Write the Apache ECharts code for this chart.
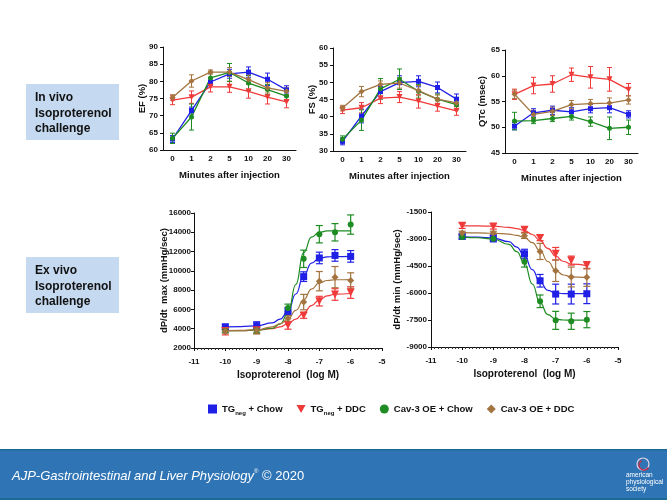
<!DOCTYPE html>
<html><head><meta charset="utf-8">
<script src="https://cdn.jsdelivr.net/npm/echarts@6/dist/echarts.min.js"></script>
<style>html,body{margin:0;padding:0;background:#fff}#c{width:667px;height:500px}</style>
</head><body><div id="c"></div>
<script>
// ---------- DATA ----------
const GROUPS = ['TGneg + Chow', 'TGneg + DDC', 'Cav-3 OE + Chow', 'Cav-3 OE + DDC'];
const MINUTES = ['0', '1', '2', '5', '10', '20', '30'];

// EF (%)
const EF_TG_CHOW = [63.2, 71.5, 79.8, 82.2, 82.7, 80.6, 77.5];
const EF_TG_DDC  = [74.5, 75.4, 78.4, 78.4, 77.1, 75.4, 74.0];
const EF_CAV_CHOW = [63.4, 69.6, 81.0, 82.6, 79.5, 77.6, 75.7];
const EF_CAV_DDC  = [75.3, 80.1, 82.7, 82.7, 80.5, 78.1, 77.1];
const EF_TG_CHOW_ERR = [1.0, 1.0, 1.0, 1.3, 1.5, 1.8, 1.2];
const EF_TG_DDC_ERR  = [1.3, 1.8, 1.5, 1.6, 2.0, 2.0, 1.7];
const EF_CAV_CHOW_ERR = [1.5, 3.8, 1.4, 2.6, 2.2, 1.5, 1.3];
const EF_CAV_DDC_ERR  = [0.8, 1.8, 0.6, 1.3, 1.4, 1.5, 1.0];

// FS (%)
const FS_TG_CHOW = [32.8, 40.2, 47.3, 49.9, 50.3, 48.5, 45.1];
const FS_TG_DDC  = [41.9, 42.6, 45.4, 45.7, 44.5, 43.1, 41.7];
const FS_CAV_CHOW = [33.4, 39.0, 48.1, 50.9, 47.4, 45.1, 43.5];
const FS_CAV_DDC  = [42.5, 47.3, 49.4, 49.8, 47.6, 45.1, 44.0];
const FS_TG_CHOW_ERR = [1.0, 2.0, 1.5, 2.0, 1.6, 1.6, 1.5];
const FS_TG_DDC_ERR  = [1.0, 1.5, 1.6, 1.6, 2.0, 1.5, 1.3];
const FS_CAV_CHOW_ERR = [1.0, 3.0, 3.0, 3.0, 2.0, 1.5, 1.5];
const FS_CAV_DDC_ERR  = [0.8, 1.5, 1.0, 1.5, 1.5, 1.2, 1.0];

// QTc (msec)
const QT_TG_CHOW = [50.2, 52.8, 53.3, 53.0, 53.6, 53.8, 52.5];
const QT_TG_DDC  = [56.4, 58.1, 58.4, 60.2, 59.7, 59.3, 57.3];
const QT_CAV_CHOW = [51.2, 51.3, 51.7, 52.1, 51.1, 49.8, 50.0];
const QT_CAV_DDC  = [56.4, 52.5, 53.1, 54.4, 54.6, 54.7, 55.3];
const QT_TG_CHOW_ERR = [0.7, 0.8, 0.8, 0.8, 0.8, 1.0, 0.7];
const QT_TG_DDC_ERR  = [1.0, 1.6, 1.6, 1.3, 2.1, 2.3, 1.2];
const QT_CAV_CHOW_ERR = [1.7, 0.6, 0.6, 0.7, 0.9, 2.2, 1.4];
const QT_CAV_DDC_ERR  = [0.8, 0.8, 0.8, 0.8, 0.8, 1.0, 0.8];

// Ex vivo: isoproterenol (log M)
const LOG_CONC = [-10, -9, -8, -7.5, -7, -6.5, -6];
const FIT_X = [-10, -9.5, -9, -8.5, -8.25, -8, -7.75, -7.5, -7.25, -7, -6.75, -6.5, -6];

// dP/dt max (mmHg/sec)
const MAX_TG_CHOW = [4180, 4320, 5800, 9400, 11340, 11600, 11500];
const MAX_TG_DDC  = [3760, 3850, 4350, 5380, 6860, 7550, 7750];
const MAX_CAV_CHOW = [3780, 3850, 6150, 11250, 13800, 14000, 14800];
const MAX_CAV_DDC  = [3760, 3850, 5050, 6760, 8930, 9350, 9000];
const MAX_TG_CHOW_ERR = [300, 400, 400, 500, 600, 600, 600];
const MAX_TG_DDC_ERR  = [400, 300, 400, 300, 500, 600, 600];
const MAX_CAV_CHOW_ERR = [200, 300, 400, 900, 900, 900, 1000];
const MAX_CAV_DDC_ERR  = [200, 400, 300, 800, 1000, 1100, 800];
// fitted curves at FIT_X
const MAX_TG_CHOW_FIT = [4200, 4220, 4300, 4600, 5000, 5800, 7600, 9500, 10800, 11300, 11450, 11480, 11500];
const MAX_TG_DDC_FIT  = [3800, 3810, 3850, 4000, 4200, 4500, 5000, 5650, 6400, 7000, 7400, 7580, 7650];
const MAX_CAV_CHOW_FIT = [3800, 3810, 3850, 4050, 4500, 5600, 8600, 11900, 13500, 14000, 14150, 14150, 14150];
const MAX_CAV_DDC_FIT  = [3800, 3820, 3880, 4200, 4500, 5000, 5900, 7000, 8100, 8750, 9000, 9080, 9100];

// dP/dt min (mmHg/sec)
const MIN_TG_CHOW = [-2850, -2960, -3820, -5320, -6060, -6060, -6040];
const MIN_TG_DDC  = [-2260, -2300, -2480, -2940, -3820, -4200, -4460];
const MIN_CAV_CHOW = [-2890, -2980, -4260, -6460, -7520, -7570, -7480];
const MIN_CAV_DDC  = [-2670, -2670, -2820, -3690, -4760, -5110, -5130];
const MIN_TG_CHOW_ERR = [150, 200, 250, 350, 550, 550, 550];
const MIN_TG_DDC_ERR  = [150, 150, 150, 150, 350, 250, 200];
const MIN_CAV_CHOW_ERR = [100, 100, 300, 350, 500, 450, 450];
const MIN_CAV_DDC_ERR  = [100, 100, 150, 450, 600, 550, 500];
const MIN_TG_CHOW_FIT = [-2880, -2900, -2950, -3150, -3450, -3950, -4700, -5400, -5850, -6000, -6030, -6040, -6040];
const MIN_TG_DDC_FIT  = [-2270, -2270, -2290, -2350, -2420, -2530, -2750, -3080, -3520, -3950, -4250, -4400, -4480];
const MIN_CAV_CHOW_FIT = [-2900, -2930, -3000, -3300, -3700, -4350, -5500, -6550, -7200, -7450, -7500, -7510, -7510];
const MIN_CAV_DDC_FIT  = [-2650, -2660, -2680, -2730, -2800, -2920, -3200, -3650, -4250, -4750, -5000, -5100, -5150];

const EF_TICKS = [60, 90, 5];
const FS_TICKS = [30, 60, 5];
const QT_TICKS = [45, 65, 5];
const MAX_TICKS = [2000, 16000, 2000];
const MIN_TICKS = [-9000, -1500, 1500];
const CONC_TICKS = [-11, -5, 1];

// ---------- STYLE ----------
const FONT = "'Liberation Sans', Arial, sans-serif";
const COLORS = ['#1f1fe6', '#f03a3a', '#1e8c22', '#a3743f'];
const SYMBOLS = ['rect', 'triangle', 'circle', 'diamond'];
const ROT = [0, 180, 0, 0];
const SIZES_TOP = [5, 6, 5, 6];
const SIZES_BOT = [7, 8, 6, 7];

function errRender(capW, lw) {
  return function (params, api) {
    const x = api.value(0), lo = api.value(1), hi = api.value(2);
    const p1 = api.coord([x, lo]), p2 = api.coord([x, hi]);
    const style = { stroke: api.visual('color'), lineWidth: lw };
    return { type: 'group', children: [
      { type: 'line', shape: { x1: p1[0], y1: p1[1], x2: p2[0], y2: p2[1] }, style },
      { type: 'line', shape: { x1: p1[0] - capW, y1: p1[1], x2: p1[0] + capW, y2: p1[1] }, style },
      { type: 'line', shape: { x1: p2[0] - capW, y1: p2[1], x2: p2[0] + capW, y2: p2[1] }, style }
    ]};
  };
}

const series = [];
function topPanel(idx, means, errs) {
  for (let g = 0; g < 4; g++) {
    series.push({
      name: GROUPS[g], type: 'line', xAxisIndex: idx, yAxisIndex: idx,
      data: means[g], symbol: SYMBOLS[g], symbolRotate: ROT[g], symbolSize: SIZES_TOP[g],
      itemStyle: { color: COLORS[g] }, lineStyle: { color: COLORS[g], width: 1.3 },
      z: 3, animation: false
    });
    series.push({
      name: GROUPS[g], type: 'custom', xAxisIndex: idx, yAxisIndex: idx,
      renderItem: errRender(2.5, 1), itemStyle: { color: COLORS[g] },
      encode: { x: 0, y: [1, 2] },
      data: means[g].map((m, i) => [i, m - errs[g][i], m + errs[g][i]]),
      z: 2, animation: false
    });
  }
}
function botPanel(idx, means, errs, fits) {
  for (let g = 0; g < 4; g++) {
    series.push({
      name: GROUPS[g], type: 'scatter', xAxisIndex: idx, yAxisIndex: idx,
      data: LOG_CONC.map((x, i) => [x, means[g][i]]),
      symbol: SYMBOLS[g], symbolRotate: ROT[g], symbolSize: SIZES_BOT[g],
      itemStyle: { color: COLORS[g], opacity: 1 }, z: 4, animation: false
    });
    series.push({
      name: GROUPS[g], type: 'line', xAxisIndex: idx, yAxisIndex: idx,
      data: FIT_X.map((x, i) => [x, fits[g][i]]), showSymbol: false, symbol: 'none',
      smooth: 0.5, smoothMonotone: 'x',
      lineStyle: { color: COLORS[g], width: 1.2 }, itemStyle: { color: COLORS[g] },
      z: 3, animation: false
    });
    series.push({
      name: GROUPS[g], type: 'custom', xAxisIndex: idx, yAxisIndex: idx,
      renderItem: errRender(3.5, 1.2), itemStyle: { color: COLORS[g] },
      encode: { x: 0, y: [1, 2] },
      data: LOG_CONC.map((x, i) => [x, means[g][i] - errs[g][i], means[g][i] + errs[g][i]]),
      z: 2, animation: false
    });
  }
}
topPanel(0, [EF_TG_CHOW, EF_TG_DDC, EF_CAV_CHOW, EF_CAV_DDC], [EF_TG_CHOW_ERR, EF_TG_DDC_ERR, EF_CAV_CHOW_ERR, EF_CAV_DDC_ERR]);
topPanel(1, [FS_TG_CHOW, FS_TG_DDC, FS_CAV_CHOW, FS_CAV_DDC], [FS_TG_CHOW_ERR, FS_TG_DDC_ERR, FS_CAV_CHOW_ERR, FS_CAV_DDC_ERR]);
topPanel(2, [QT_TG_CHOW, QT_TG_DDC, QT_CAV_CHOW, QT_CAV_DDC], [QT_TG_CHOW_ERR, QT_TG_DDC_ERR, QT_CAV_CHOW_ERR, QT_CAV_DDC_ERR]);
botPanel(3, [MAX_TG_CHOW, MAX_TG_DDC, MAX_CAV_CHOW, MAX_CAV_DDC], [MAX_TG_CHOW_ERR, MAX_TG_DDC_ERR, MAX_CAV_CHOW_ERR, MAX_CAV_DDC_ERR],
  [MAX_TG_CHOW_FIT, MAX_TG_DDC_FIT, MAX_CAV_CHOW_FIT, MAX_CAV_DDC_FIT]);
botPanel(4, [MIN_TG_CHOW, MIN_TG_DDC, MIN_CAV_CHOW, MIN_CAV_DDC], [MIN_TG_CHOW_ERR, MIN_TG_DDC_ERR, MIN_CAV_CHOW_ERR, MIN_CAV_DDC_ERR],
  [MIN_TG_CHOW_FIT, MIN_TG_DDC_FIT, MIN_CAV_CHOW_FIT, MIN_CAV_DDC_FIT]);

const axisLine = { show: true, lineStyle: { color: '#111', width: 1 } };
const lbl = (m) => ({ color: '#111', fontFamily: FONT, fontWeight: 'bold', fontSize: 8, margin: m,
  formatter: (v) => String(v) });
const nameStyle = { color: '#111', fontFamily: FONT, fontWeight: 'bold', fontSize: 9.5 };

function catX(grid) {
  return { type: 'category', gridIndex: grid, data: MINUTES, boundaryGap: true,
    axisLine, axisTick: { show: false }, axisLabel: { color: '#111', fontFamily: FONT, fontWeight: 'bold', fontSize: 8, margin: 5, interval: 0 },
    name: 'Minutes after injection', nameLocation: 'middle', nameGap: 20, nameTextStyle: nameStyle,
    nameMoveOverlap: false, splitLine: { show: false } };
}
function valY(grid, t, name, gap, m) {
  return { type: 'value', gridIndex: grid, min: t[0], max: t[1], interval: t[2],
    axisLine, axisTick: { show: true, length: 3, lineStyle: { color: '#111' } }, axisLabel: lbl(m),
    name, nameLocation: 'middle', nameRotate: 90, nameGap: gap, nameTextStyle: nameStyle,
    nameMoveOverlap: false, splitLine: { show: false } };
}
function concX(grid) {
  return { type: 'value', gridIndex: grid, min: CONC_TICKS[0], max: CONC_TICKS[1], interval: CONC_TICKS[2],
    axisLine, axisTick: { show: true, length: 3, lineStyle: { color: '#111' } },
    minorTick: { show: true, splitNumber: 9, length: 2, lineStyle: { color: '#333' } },
    axisLabel: lbl(10), name: 'Isoproterenol  (log M)', nameLocation: 'middle', nameGap: 22,
    nameTextStyle: Object.assign({}, nameStyle, { fontSize: 10 }), nameMoveOverlap: false,
    splitLine: { show: false } };
}

const legendData = [
  { name: GROUPS[0], icon: 'rect', itemStyle: { color: COLORS[0] } },
  { name: GROUPS[1], icon: 'path://M0,0L10,0L5,9Z', itemStyle: { color: COLORS[1] } },
  { name: GROUPS[2], icon: 'circle', itemStyle: { color: COLORS[2] } },
  { name: GROUPS[3], icon: 'diamond', itemStyle: { color: COLORS[3] } }
];

function box(x, y, lines) {
  return [
    { type: 'rect', shape: { x, y, width: 93, height: 56 }, style: { fill: '#c5d9f0' }, silent: true },
    { type: 'text', x: x + 9, y: y + 6, style: { text: lines.join('\n'), fill: '#111', font: 'bold 12px ' + FONT, lineHeight: 15.5 }, silent: true }
  ];
}

const option = {
  backgroundColor: '#fff',
  animation: false,
  textStyle: { fontFamily: FONT },
  grid: [
    { left: 163, top: 47, width: 133, height: 103 },
    { left: 333, top: 48, width: 133, height: 103 },
    { left: 505, top: 50, width: 133, height: 103 },
    { left: 194, top: 213, width: 188, height: 135 },
    { left: 431, top: 212, width: 187, height: 135 }
  ],
  xAxis: [catX(0), catX(1), catX(2), concX(3), concX(4)],
  yAxis: [
    valY(0, EF_TICKS, 'EF (%)', 16, 5),
    valY(1, FS_TICKS, 'FS (%)', 16, 5),
    valY(2, QT_TICKS, 'QTc (msec)', 18, 5),
    valY(3, MAX_TICKS, 'dP/dt  max (mmHg/sec)', 25, 3),
    valY(4, MIN_TICKS, 'dP/dt min (mmHg/sec)', 29, 4)
  ],
  legend: {
    data: legendData, left: 203, top: 399, itemWidth: 9, itemHeight: 9, itemGap: 14,
    selectedMode: true,
    formatter: function (name) {
      if (name.indexOf('TGneg') === 0) return '{b|TG}{s|neg}{b|' + name.slice(5) + '}';
      return '{b|' + name + '}';
    },
    textStyle: {
      rich: {
        b: { fontFamily: FONT, fontWeight: 'bold', fontSize: 9.5, color: '#111', lineHeight: 14 },
        s: { fontFamily: FONT, fontWeight: 'bold', fontSize: 6, color: '#111', lineHeight: 8, verticalAlign: 'bottom' }
      }
    }
  },
  graphic: [
    ...box(26, 84, ['In vivo', 'Isoproterenol', 'challenge']),
    ...box(26, 257, ['Ex vivo', 'Isoproterenol', 'challenge']),
    { type: 'rect', shape: { x: 0, y: 449, width: 667, height: 51 }, style: { fill: '#2f75b6' }, silent: true },
    { type: 'rect', shape: { x: 0, y: 449, width: 667, height: 1.5 }, style: { fill: '#1d6a96' }, silent: true },
    { type: 'rect', shape: { x: 0, y: 498, width: 667, height: 2 }, style: { fill: '#1d6a96' }, silent: true },
    { type: 'text', x: 12, y: 476, style: {
        text: '{a|AJP-Gastrointestinal and Liver Physiology}{r|®}{c| © 2020}',
        verticalAlign: 'middle',
        rich: {
          a: { fontFamily: FONT, fontStyle: 'italic', fontSize: 13, fill: '#fff', lineHeight: 16 },
          r: { fontFamily: FONT, fontSize: 6, fill: '#fff', lineHeight: 8, verticalAlign: 'top' },
          c: { fontFamily: FONT, fontSize: 13, fill: '#fff', lineHeight: 16 }
        } }, silent: true },
    { type: 'circle', shape: { cx: 643, cy: 464, r: 6 }, style: { fill: 'none', stroke: '#e4d3e6', lineWidth: 1.2 }, silent: true },
    { type: 'arc', shape: { cx: 644, cy: 465, r: 5, startAngle: 0.5, endAngle: 4.2 }, style: { fill: 'none', stroke: '#c0304a', lineWidth: 1.5 }, silent: true },
    { type: 'text', x: 626, y: 472, style: { text: 'american\nphysiological\nsociety', fill: '#fff', font: '6.5px ' + FONT, lineHeight: 7 }, silent: true }
  ],
  series
};

const chart = echarts.init(document.getElementById('c'), null, { renderer: 'canvas' });
chart.setOption(option);
</script>
</body></html>
